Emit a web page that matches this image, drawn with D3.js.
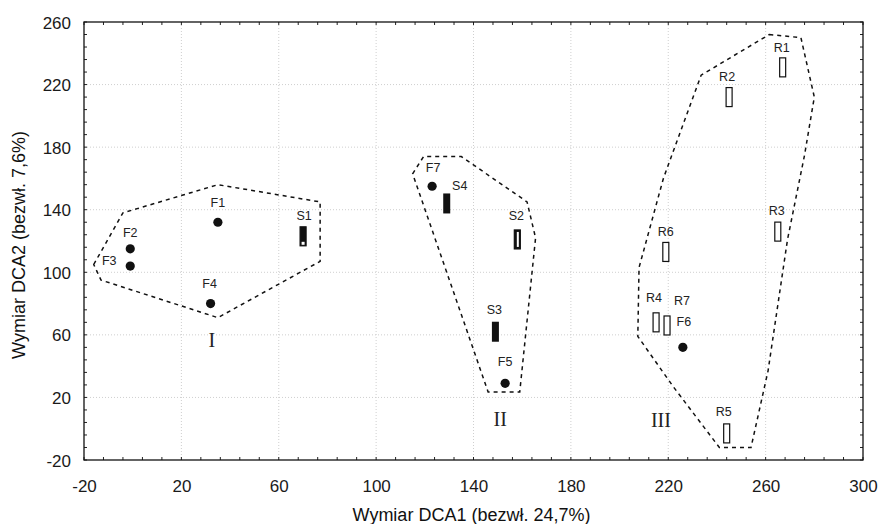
<!DOCTYPE html>
<html><head><meta charset="utf-8">
<script src="https://cdn.jsdelivr.net/npm/d3@7"></script>
<style>body{margin:0;background:#fff}svg{display:block}</style>
</head><body><svg id="c" width="881" height="524"></svg>
<script>
// ---- data ----
const xTicks = [-20, 20, 60, 100, 140, 180, 220, 260, 300];
const yTicks = [-20, 20, 60, 100, 140, 180, 220, 260];
const dotPoints = [
  {id:"F1", x:35, y:132}, {id:"F2", x:-1, y:115}, {id:"F3", x:-1, y:104},
  {id:"F4", x:32, y:80}, {id:"F7", x:123, y:155}, {id:"F5", x:153, y:29},
  {id:"F6", x:226, y:52}
];
const barPoints = [
  {id:"S1", x:70, y:123, kind:"s1"}, {id:"S4", x:129, y:144, kind:"solid"},
  {id:"S2", x:158, y:121, kind:"s2"}, {id:"S3", x:149, y:62, kind:"solid"},
  {id:"R1", x:267, y:231, kind:"open"}, {id:"R2", x:245, y:212, kind:"open"},
  {id:"R3", x:265, y:126, kind:"open"}, {id:"R6", x:219, y:113, kind:"open"},
  {id:"R4", x:215, y:68, kind:"open"}, {id:"R7", x:219.5, y:66, kind:"open"},
  {id:"R5", x:244, y:-3, kind:"open"}
];
const hullI = [[-16,105],[-4,138],[35,156],[77,145],[77,107],[35,71],[-13,95]];
const hullII = [[115,163],[119.5,174],[135,174],[162,145],[165.5,122],[159,23.5],[146,23.5]];
const hullIII = [[261.5,252],[274.5,250],[280,212],[276,175],[269,121],[261,37],[254,-12],[241,-12],[222,27],[207.5,59],[208,103],[218,160],[233.5,226]];
const groupLabels = [{t:"I", x:32.5, y:52}, {t:"II", x:151, y:2}, {t:"III", x:217, y:1}];
const xTitle = "Wymiar DCA1 (bezwł. 24,7%)";
const yTitle = "Wymiar DCA2 (bezwł. 7,6%)";

// ---- label offsets (style) ----
const labelOff = {
  F1:[0,-15], F2:[0,-12], F3:[-21,-1], F4:[-1,-16], S1:[1,-16], F7:[1,-14],
  S4:[13,-13], S2:[-1,-19], S3:[-1,-18], F5:[0,-17], F6:[1,-21],
  R1:[-1,-15], R2:[-2,-16], R3:[-1,-17], R6:[0,-16], R4:[-2,-20], R7:[15,-20], R5:[-3,-17]
};

const FONT = "Liberation Sans, Arial, sans-serif";
const svg = d3.select("#c");
const L=84, R=863, T=22, B=460;
const x = d3.scaleLinear().domain([-20,300]).range([L,R]);
const y = d3.scaleLinear().domain([-20,260]).range([B,T]);

// grid
const g = svg.append("g");
g.selectAll(".gx").data(xTicks.slice(1,-1)).join("line")
  .attr("x1",d=>x(d)).attr("x2",d=>x(d)).attr("y1",T).attr("y2",B)
  .attr("stroke","#cfcfcf").attr("stroke-width",1).attr("stroke-dasharray","1,2");
g.selectAll(".gy").data(yTicks.slice(1,-1)).join("line")
  .attr("y1",d=>y(d)).attr("y2",d=>y(d)).attr("x1",L).attr("x2",R)
  .attr("stroke","#cfcfcf").attr("stroke-width",1).attr("stroke-dasharray","1,2");

// axes
const minorX = d3.range(-20, 300.1, 8);
const minorY = d3.range(-20, 260.1, 8);
const ax = svg.append("g").attr("transform",`translate(0,${B})`)
  .call(d3.axisBottom(x).tickValues(xTicks).tickSize(0).tickPadding(20).tickFormat(d=>String(d)));
const ay = svg.append("g").attr("transform",`translate(${L},0)`)
  .call(d3.axisLeft(y).tickValues(yTicks).tickSize(0).tickPadding(13).tickFormat(d=>String(d)));
[ax,ay].forEach(a=>{a.select(".domain").remove();
  a.selectAll("text").attr("font-family",FONT).attr("font-size",17).attr("fill","#1a1a1a");});
ay.selectAll("text").attr("dy","0.36em");
// inner minor ticks
svg.append("g").selectAll("line").data(minorY).join("line")
  .attr("x1",L).attr("x2",L+3).attr("y1",d=>y(d)).attr("y2",d=>y(d)).attr("stroke","#222");
svg.append("g").selectAll("line").data(minorY).join("line")
  .attr("x1",R).attr("x2",R-3).attr("y1",d=>y(d)).attr("y2",d=>y(d)).attr("stroke","#222");
svg.append("g").selectAll("line").data(minorX).join("line")
  .attr("x1",d=>x(d)).attr("x2",d=>x(d)).attr("y1",B).attr("y2",B-3).attr("stroke","#222");
svg.append("g").selectAll("line").data(minorX).join("line")
  .attr("x1",d=>x(d)).attr("x2",d=>x(d)).attr("y1",T).attr("y2",T+3).attr("stroke","#222");

// frame
svg.append("rect").attr("x",L).attr("y",T).attr("width",R-L).attr("height",B-T)
  .attr("fill","none").attr("stroke","#111").attr("stroke-width",1.3);

// hulls
const line = d3.line().x(d=>x(d[0])).y(d=>y(d[1])).curve(d3.curveLinearClosed);
[hullI,hullII,hullIII].forEach(h=>{
  svg.append("path").attr("d",line(h)).attr("fill","none").attr("stroke","#111")
    .attr("stroke-width",1.5).attr("stroke-dasharray","4,4");
});

// dots
svg.append("g").selectAll("circle").data(dotPoints).join("circle")
  .attr("cx",d=>x(d.x)).attr("cy",d=>y(d.y)).attr("r",4.6).attr("fill","#111");

// bars
const bw=6, bh=19;
const bg = svg.append("g");
barPoints.forEach(d=>{
  const cx=x(d.x), cy=y(d.y);
  if(d.kind==="open"){
    bg.append("rect").attr("x",cx-bw/2).attr("y",cy-bh/2).attr("width",bw).attr("height",bh)
      .attr("fill","#fff").attr("stroke","#111").attr("stroke-width",1.2);
  } else if(d.kind==="solid"){
    bg.append("rect").attr("x",cx-bw/2-0.5).attr("y",cy-bh/2-0.5).attr("width",bw+1).attr("height",bh+1)
      .attr("fill","#111");
  } else if(d.kind==="s1"){
    bg.append("rect").attr("x",cx-bw/2).attr("y",cy-bh/2).attr("width",bw).attr("height",bh)
      .attr("fill","#111").attr("stroke","#111").attr("stroke-width",1.2);
    bg.append("rect").attr("x",cx-bw/2+1.5).attr("y",cy+bh/2-4).attr("width",bw-3).attr("height",3).attr("fill","#fff");
  } else {
    bg.append("rect").attr("x",cx-bw/2).attr("y",cy-bh/2).attr("width",bw).attr("height",bh)
      .attr("fill","#111").attr("stroke","#111").attr("stroke-width",1.2);
    bg.append("rect").attr("x",cx-0.5).attr("y",cy-bh/2+2).attr("width",2).attr("height",bh-4).attr("fill","#fff");
  }
});

// point labels
const allPts = dotPoints.concat(barPoints);
svg.append("g").selectAll("text").data(allPts).join("text")
  .attr("x",d=>x(d.x)+labelOff[d.id][0]).attr("y",d=>y(d.y)+labelOff[d.id][1])
  .attr("text-anchor","middle").attr("font-family",FONT)
  .attr("font-size",12.5).attr("fill","#222").text(d=>d.id);

// group labels
svg.append("g").selectAll("text").data(groupLabels).join("text")
  .attr("x",d=>x(d.x)).attr("y",d=>y(d.y)).attr("text-anchor","middle")
  .attr("font-family","Liberation Serif, Times New Roman, serif").attr("font-size",20).attr("fill","#222").text(d=>d.t);

// titles
svg.append("text").attr("x",(L+R)/2-2).attr("y",521).attr("text-anchor","middle")
  .attr("font-family",FONT).attr("font-size",18).attr("fill","#111").text(xTitle);
svg.append("text").attr("transform",`translate(25,${(T+B)/2+4}) rotate(-90)`).attr("text-anchor","middle")
  .attr("font-family",FONT).attr("font-size",18).attr("fill","#111").text(yTitle);
</script></body></html>
